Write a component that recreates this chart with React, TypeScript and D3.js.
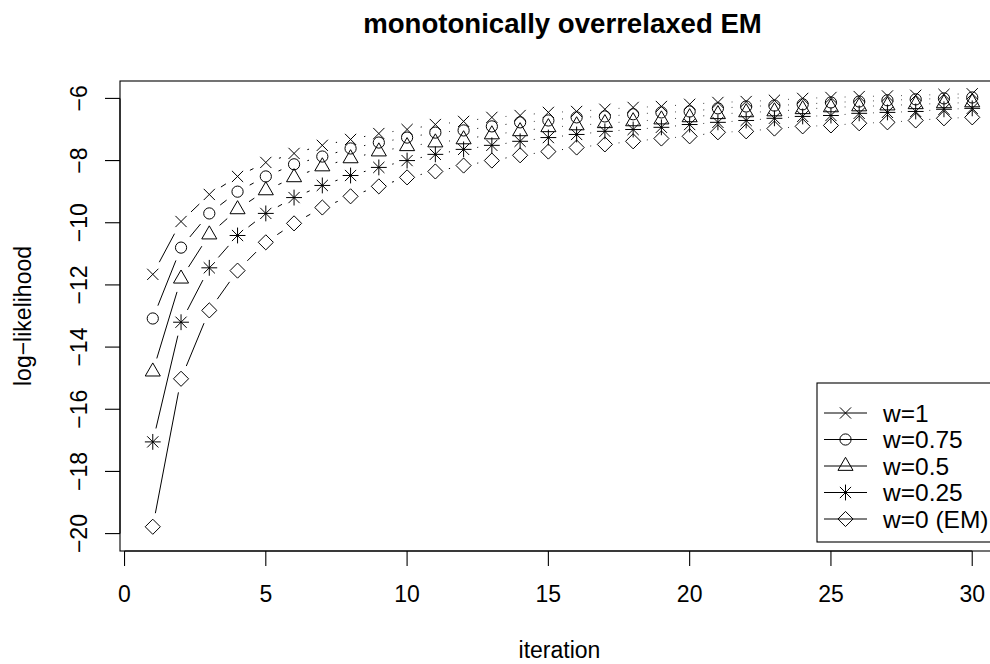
import React from "react";
import * as d3 from "d3";

const iterations = d3.range(1, 31);
const seriesLabels = ["w=1", "w=0.75", "w=0.5", "w=0.25", "w=0 (EM)"];
const seriesSymbols = ["x", "circle", "triangle", "asterisk", "diamond"];

const w1 = [-11.66, -9.96, -9.09, -8.51, -8.06, -7.77, -7.51, -7.32, -7.13, -7.0, -6.84, -6.74, -6.61, -6.55, -6.45, -6.42, -6.35, -6.29, -6.26, -6.19, -6.13, -6.1, -6.06, -6.0, -5.97, -5.94, -5.92, -5.9, -5.87, -5.85];
const w075 = [-13.08, -10.8, -9.7, -9.0, -8.51, -8.12, -7.87, -7.61, -7.42, -7.26, -7.1, -7.03, -6.9, -6.77, -6.71, -6.61, -6.58, -6.51, -6.45, -6.42, -6.32, -6.26, -6.23, -6.19, -6.13, -6.1, -6.06, -6.03, -6.0, -5.97];
const w05 = [-14.79, -11.8, -10.38, -9.57, -8.96, -8.54, -8.19, -7.93, -7.71, -7.54, -7.42, -7.32, -7.16, -7.06, -6.93, -6.87, -6.8, -6.74, -6.68, -6.61, -6.51, -6.45, -6.42, -6.35, -6.29, -6.26, -6.23, -6.19, -6.16, -6.13];
const w025 = [-17.05, -13.2, -11.45, -10.41, -9.7, -9.19, -8.8, -8.48, -8.22, -8.0, -7.8, -7.64, -7.51, -7.38, -7.26, -7.16, -7.06, -7.0, -6.93, -6.84, -6.77, -6.71, -6.64, -6.58, -6.55, -6.48, -6.45, -6.42, -6.35, -6.32];
const w0 = [-19.78, -15.02, -12.82, -11.54, -10.63, -10.02, -9.51, -9.15, -8.83, -8.54, -8.35, -8.16, -8.0, -7.83, -7.71, -7.58, -7.48, -7.38, -7.29, -7.22, -7.09, -7.06, -6.97, -6.9, -6.87, -6.8, -6.77, -6.71, -6.64, -6.61];
const seriesValues = [w1, w075, w05, w025, w0];

const xTicks = [0, 5, 10, 15, 20, 25, 30];
const yTicks = [-6, -8, -10, -12, -14, -16, -18, -20];

const FONT = "'Liberation Sans', Arial, Helvetica, sans-serif";
const FS = 23;
const STROKE = "#000";

function symbolPath(kind: string, cx: number, cy: number): React.ReactNode {
  const s = 5.6;
  switch (kind) {
    case "x":
      return <path d={`M${cx - s},${cy - s}L${cx + s},${cy + s}M${cx - s},${cy + s}L${cx + s},${cy - s}`} />;
    case "circle":
      return <circle cx={cx} cy={cy} r={s} fill="none" />;
    case "triangle": {
      const r = 1.555 * s;
      const yc = 0.5 * r;
      const xc = 0.866 * r;
      return <path d={`M${cx},${cy - r}L${cx + xc},${cy + yc}L${cx - xc},${cy + yc}Z`} fill="none" />;
    }
    case "asterisk": {
      const p = s * 1.414;
      return (
        <path
          d={`M${cx - s},${cy - s}L${cx + s},${cy + s}M${cx - s},${cy + s}L${cx + s},${cy - s}M${cx - p},${cy}L${cx + p},${cy}M${cx},${cy - p}L${cx},${cy + p}`}
        />
      );
    }
    case "diamond": {
      const q = s * 1.35;
      return <path d={`M${cx},${cy - q}L${cx + q},${cy}L${cx},${cy + q}L${cx - q},${cy}Z`} fill="none" />;
    }
  }
  return null;
}

export default function App() {
  const W = 990;
  const H = 664;
  const left = 120;
  const right = 1005;
  const top = 81;
  const bottom = 551;

  const x = d3.scaleLinear().domain([-0.16, 31.16]).range([left, right]);
  const y = d3.scaleLinear().domain([-20.56, -5.44]).range([bottom, top]);

  const gap = 13.8;

  const gapSegments = (vals: number[]) => {
    const segs: string[] = [];
    for (let i = 0; i < vals.length - 1; i++) {
      const x1 = x(iterations[i]);
      const y1 = y(vals[i]);
      const x2 = x(iterations[i + 1]);
      const y2 = y(vals[i + 1]);
      const dx = x2 - x1;
      const dy = y2 - y1;
      const dist = Math.sqrt(dx * dx + dy * dy);
      if (dist > 2 * gap) {
        const ux = dx / dist;
        const uy = dy / dist;
        segs.push(`M${x1 + ux * gap},${y1 + uy * gap}L${x2 - ux * gap},${y2 - uy * gap}`);
      }
    }
    return segs.join("");
  };

  const legendX0 = 817;
  const legendTop = 383;
  const legendBottom = 542;
  const legendRowY = (i: number) => 413 + i * 26.5;

  return (
    <svg
      width={W}
      height={H}
      viewBox={`0 0 ${W} ${H}`}
      style={{ position: "absolute", left: 0, top: 0, background: "#fff", overflow: "hidden" }}
      fontFamily={FONT}
    >
      <rect x={0} y={0} width={W} height={H} fill="#fff" />
      {/* title */}
      <text x={(left + right) / 2} y={33} textAnchor="middle" fontSize={27.6} fontWeight="bold" fill="#000">
        monotonically overrelaxed EM
      </text>

      {/* series */}
      <g stroke={STROKE} strokeWidth={1} fill="none">
        {seriesValues.map((vals, si) => (
          <g key={si}>
            <path d={gapSegments(vals)} />
            {vals.map((v, i) => (
              <g key={i}>{symbolPath(seriesSymbols[si], x(iterations[i]), y(v))}</g>
            ))}
          </g>
        ))}
      </g>

      {/* box */}
      <rect x={left} y={top} width={right - left} height={bottom - top} fill="none" stroke="#000" strokeWidth={1.1} />

      {/* x axis */}
      <g stroke="#000" strokeWidth={1.1}>
        <line x1={x(xTicks[0])} x2={x(xTicks[xTicks.length - 1])} y1={bottom} y2={bottom} />
        {xTicks.map((t) => (
          <line key={t} x1={x(t)} x2={x(t)} y1={bottom} y2={bottom + 15} />
        ))}
      </g>
      {xTicks.map((t) => (
        <text key={t} x={x(t)} y={602} textAnchor="middle" fontSize={FS} fill="#000">
          {String(t)}
        </text>
      ))}
      <text x={(left + right) / 2 - 3} y={658} textAnchor="middle" fontSize={FS} fill="#000">
        iteration
      </text>

      {/* y axis */}
      <g stroke="#000" strokeWidth={1.1}>
        <line x1={left} x2={left} y1={y(yTicks[0])} y2={y(yTicks[yTicks.length - 1])} />
        {yTicks.map((t) => (
          <line key={t} x1={left - 15} x2={left} y1={y(t)} y2={y(t)} />
        ))}
      </g>
      {yTicks.map((t) => (
        <text
          key={t}
          transform={`translate(87,${y(t)}) rotate(-90)`}
          textAnchor="middle"
          fontSize={FS}
          fill="#000"
        >
          {"\u2212" + String(Math.abs(t))}
        </text>
      ))}
      <text
        transform={`translate(31,${(top + bottom) / 2}) rotate(-90)`}
        textAnchor="middle"
        fontSize={FS}
        fill="#000"
      >
        log{"\u2212"}likelihood
      </text>

      {/* legend */}
      <rect
        x={legendX0}
        y={legendTop}
        width={200}
        height={legendBottom - legendTop}
        fill="#fff"
        stroke="#000"
        strokeWidth={1.1}
      />
      {seriesLabels.map((lab, i) => {
        const ly = legendRowY(i);
        return (
          <g key={lab}>
            <g stroke="#000" strokeWidth={1} fill="none">
              <line x1={824} x2={867} y1={ly} y2={ly} />
              {symbolPath(seriesSymbols[i], 845.5, ly)}
            </g>
            <text x={883} y={ly} dy="0.36em" fontSize={24.5} fill="#000">
              {lab}
            </text>
          </g>
        );
      })}
    </svg>
  );
}
